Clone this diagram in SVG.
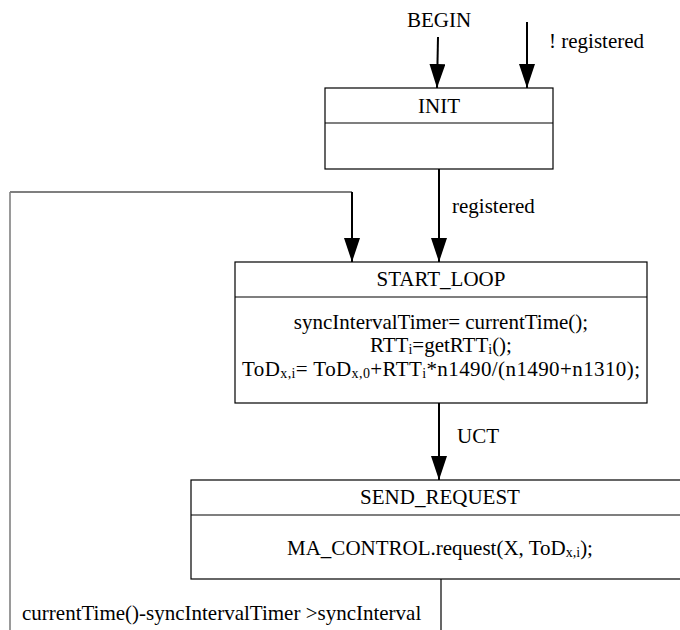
<svg xmlns="http://www.w3.org/2000/svg" width="680" height="630" viewBox="0 0 680 630">
  <defs>
    <marker id="arrow" markerUnits="userSpaceOnUse" markerWidth="24" markerHeight="16" refX="24" refY="8" orient="auto">
      <path d="M0,0 L24,8 L0,16 z" fill="#000"/>
    </marker>
    <style>
      .t { font-family: 'Liberation Serif', 'Times New Roman', serif; font-size: 21px; fill: #000; }
      .mid { text-anchor: middle; }
      .box { fill: #fff; stroke: #000; stroke-width: 1.2; }
      .div { stroke: #000; stroke-width: 1.2; }
      .flow { fill: none; stroke: #000; stroke-width: 2; }
      .thin { fill: none; stroke: #000; stroke-width: 1.2; }
      .grey { fill: none; stroke: #808080; stroke-width: 1.6; }
      .sub { font-size: 14px; }
    </style>
  </defs>

  <rect width="680" height="630" fill="#fff"/>

  <!-- transitions -->
  <g id="connectors">
    <line class="flow" x1="438" y1="37" x2="437" y2="88" marker-end="url(#arrow)"/>
    <line class="flow" x1="527" y1="22" x2="527" y2="88" marker-end="url(#arrow)"/>
    <line class="flow" x1="439" y1="169" x2="439" y2="262" marker-end="url(#arrow)"/>
    <polyline class="thin" points="10,192 352,192"/>
    <line class="flow" x1="352" y1="192" x2="352" y2="262" marker-end="url(#arrow)"/>
    <line class="grey" x1="10" y1="192" x2="10" y2="630"/>
    <line class="flow" x1="439" y1="403" x2="439" y2="480" marker-end="url(#arrow)"/>
    <line class="thin" x1="441" y1="579" x2="441" y2="630"/>

    <text class="t" x="407" y="27">BEGIN</text>
    <text class="t" x="549" y="48">! registered</text>
    <text class="t" x="452" y="213">registered</text>
    <text class="t" x="457" y="443">UCT</text>
    <text class="t" x="22" y="620">currentTime()-syncIntervalTimer &gt;syncInterval</text>
  </g>

  <!-- states -->
  <g id="init">
    <rect class="box" x="325" y="88" width="228" height="81"/>
    <line class="div" x1="325" y1="123" x2="553" y2="123"/>
    <text class="t mid" x="439" y="113">INIT</text>
  </g>

  <g id="start_loop">
    <rect class="box" x="235" y="262" width="412" height="141"/>
    <line class="div" x1="235" y1="297" x2="647" y2="297"/>
    <text class="t mid" x="441" y="286">START_LOOP</text>
    <text class="t mid" x="441" y="329">syncIntervalTimer= currentTime();</text>
    <text class="t mid" x="441" y="352">RTT<tspan class="sub" dy="2">i</tspan><tspan dy="-2">=getRTT</tspan><tspan class="sub" dy="2">i</tspan><tspan dy="-2">();</tspan></text>
    <text class="t mid" x="441" y="376" textLength="398" lengthAdjust="spacing">ToD<tspan class="sub" dy="2">x,i</tspan><tspan dy="-2">= ToD</tspan><tspan class="sub" dy="2">x,0</tspan><tspan dy="-2">+RTT</tspan><tspan class="sub" dy="2">i</tspan><tspan dy="-2">*n1490/(n1490+n1310);</tspan></text>
  </g>

  <g id="send_request">
    <rect class="box" x="191" y="480" width="500" height="99"/>
    <line class="div" x1="191" y1="515" x2="691" y2="515"/>
    <text class="t mid" x="440" y="504">SEND_REQUEST</text>
    <text class="t mid" x="440" y="555">MA_CONTROL.request(X, ToD<tspan class="sub" dy="2">x,i</tspan><tspan dy="-2">);</tspan></text>
  </g>
</svg>
